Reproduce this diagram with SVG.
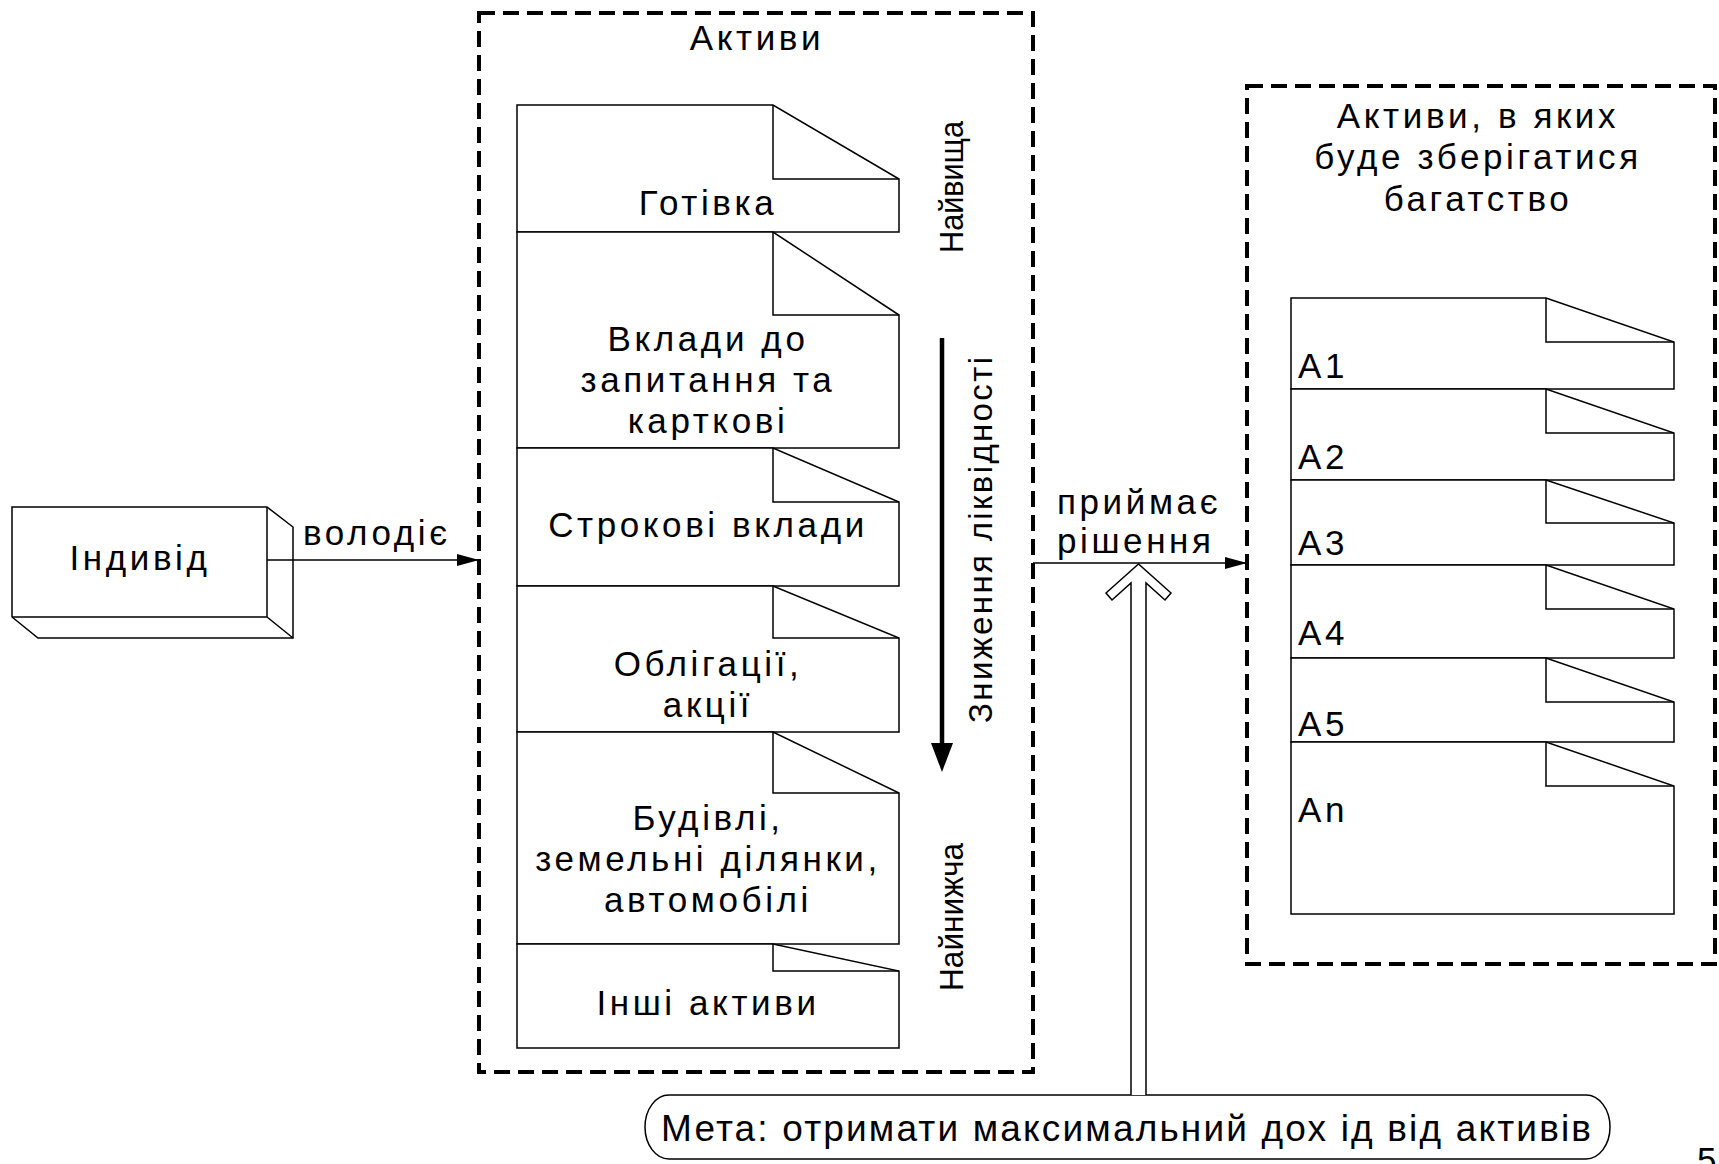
<svg xmlns="http://www.w3.org/2000/svg" width="1719" height="1164" viewBox="0 0 1719 1164">
<style>
.t{font-family:"Liberation Sans",Arial,sans-serif;font-size:35px;letter-spacing:3.6px;fill:#000}
.v{font-family:"Liberation Sans",Arial,sans-serif;font-size:33px;fill:#000}
.doc{fill:#fff;stroke:#000;stroke-width:1.5;stroke-linejoin:miter}
.ln{fill:none;stroke:#000;stroke-width:1.5}
.dash{fill:none;stroke:#000;stroke-width:4;stroke-dasharray:16 8}
</style>
<defs>
<marker id="ah" viewBox="0 0 22 12" refX="22" refY="6" markerWidth="22" markerHeight="12" markerUnits="userSpaceOnUse" orient="auto">
<path d="M0,0 L22,6 L0,12 Z" fill="#000"/>
</marker>
</defs>
<rect width="1719" height="1164" fill="#fff"/>

<g id="individ">
<path class="doc" d="M12,507 H267 L293,527 V638 H38 L12,617 Z"/>
<path class="ln" d="M267,507 V617 H12 M267,617 L293,638"/>
<text class="t" x="140" y="570" text-anchor="middle">Індивід</text>
</g>

<g id="assets">
<rect class="dash" x="479" y="13" width="554" height="1059"/>
<text class="t" x="757" y="50" text-anchor="middle">Активи</text>
<g id="cell-cash">
<path class="doc" d="M517,105 H773 L899,179 V232 H517 Z"/>
<path class="ln" d="M773,105 V179 H899"/>
<text class="t" x="708" y="215" text-anchor="middle">Готівка</text>
</g>
<g id="cell-demand">
<path class="doc" d="M517,232 H773 L899,315 V448 H517 Z"/>
<path class="ln" d="M773,232 V315 H899"/>
<text class="t" x="708" y="351" text-anchor="middle">Вклади до</text>
<text class="t" x="708" y="392" text-anchor="middle">запитання та</text>
<text class="t" x="708" y="433" text-anchor="middle">карткові</text>
</g>
<g id="cell-term">
<path class="doc" d="M517,448 H773 L899,502 V586 H517 Z"/>
<path class="ln" d="M773,448 V502 H899"/>
<text class="t" x="708" y="537" text-anchor="middle">Строкові вклади</text>
</g>
<g id="cell-bonds">
<path class="doc" d="M517,586 H773 L899,638 V732 H517 Z"/>
<path class="ln" d="M773,586 V638 H899"/>
<text class="t" x="708" y="676" text-anchor="middle">Облігації,</text>
<text class="t" x="708" y="717" text-anchor="middle">акції</text>
</g>
<g id="cell-buildings">
<path class="doc" d="M517,732 H773 L899,793 V944 H517 Z"/>
<path class="ln" d="M773,732 V793 H899"/>
<text class="t" x="708" y="830" text-anchor="middle">Будівлі,</text>
<text class="t" x="708" y="871" text-anchor="middle">земельні ділянки,</text>
<text class="t" x="708" y="912" text-anchor="middle">автомобілі</text>
</g>
<g id="cell-other">
<path class="doc" d="M517,944 H773 L899,971 V1048 H517 Z"/>
<path class="ln" d="M773,944 V971 H899"/>
<text class="t" x="708" y="1015" text-anchor="middle">Інші активи</text>
</g>
<g id="liquidity">
<line x1="942" y1="338" x2="942" y2="746" stroke="#000" stroke-width="4.5"/>
<path d="M931,743 H953 L942,772 Z" fill="#000"/>
<text class="v" transform="translate(963,187) rotate(-90)" text-anchor="middle" textLength="132" lengthAdjust="spacingAndGlyphs">Найвища</text>
<text class="v" transform="translate(992,540) rotate(-90)" text-anchor="middle" textLength="366" lengthAdjust="spacing">Зниження ліквідності</text>
<text class="v" transform="translate(963,917) rotate(-90)" text-anchor="middle" textLength="148" lengthAdjust="spacingAndGlyphs">Найнижча</text>
</g>
</g>

<g id="wealth">
<rect class="dash" x="1247" y="86" width="468" height="878"/>
<text class="t" x="1478" y="128" text-anchor="middle">Активи, в яких</text>
<text class="t" x="1478" y="169" text-anchor="middle">буде зберігатися</text>
<text class="t" x="1478" y="211" text-anchor="middle">багатство</text>
<g id="cell-a1">
<path class="doc" d="M1291,298 H1546 L1674,342 V389 H1291 Z"/>
<path class="ln" d="M1546,298 V342 H1674"/>
<text class="t" x="1298" y="378" letter-spacing="0.5">A1</text>
</g>
<g id="cell-a2">
<path class="doc" d="M1291,389 H1546 L1674,433 V480 H1291 Z"/>
<path class="ln" d="M1546,389 V433 H1674"/>
<text class="t" x="1298" y="469" letter-spacing="0.5">A2</text>
</g>
<g id="cell-a3">
<path class="doc" d="M1291,480 H1546 L1674,523 V565 H1291 Z"/>
<path class="ln" d="M1546,480 V523 H1674"/>
<text class="t" x="1298" y="555" letter-spacing="0.5">A3</text>
</g>
<g id="cell-a4">
<path class="doc" d="M1291,565 H1546 L1674,609 V658 H1291 Z"/>
<path class="ln" d="M1546,565 V609 H1674"/>
<text class="t" x="1298" y="645" letter-spacing="0.5">A4</text>
</g>
<g id="cell-a5">
<path class="doc" d="M1291,658 H1546 L1674,702 V742 H1291 Z"/>
<path class="ln" d="M1546,658 V702 H1674"/>
<text class="t" x="1298" y="736" letter-spacing="0.5">A5</text>
</g>
<g id="cell-an">
<path class="doc" d="M1291,742 H1546 L1674,786 V914 H1291 Z"/>
<path class="ln" d="M1546,742 V786 H1674"/>
<text class="t" x="1298" y="822" letter-spacing="0.5">An</text>
</g>
</g>

<g id="goal">
<rect x="645" y="1095" width="965" height="64" rx="24" ry="32" fill="#fff" stroke="#000" stroke-width="1.5"/>
<text class="t" x="1126" y="1141" text-anchor="middle" style="font-size:37px;letter-spacing:0" textLength="930" lengthAdjust="spacing">Мета: отримати максимальний дох ід від активів</text>
</g>

<g id="connectors">
<line class="ln" x1="267" y1="560" x2="479" y2="560" marker-end="url(#ah)"/>
<text class="t" x="303" y="545">володіє</text>
<line class="ln" x1="1033" y1="563" x2="1247" y2="563" marker-end="url(#ah)"/>
<text class="t" x="1057" y="514">приймає</text>
<text class="t" x="1057" y="553">рішення</text>
<path d="M1131,1095 V583 L1112,600 L1106,593 L1138.5,564 L1171,593 L1165,600 L1146,583 V1095" fill="#fff" stroke="#000" stroke-width="1.5" stroke-linejoin="miter"/>
</g>

<text class="t" x="1697" y="1172">5</text>
</svg>
